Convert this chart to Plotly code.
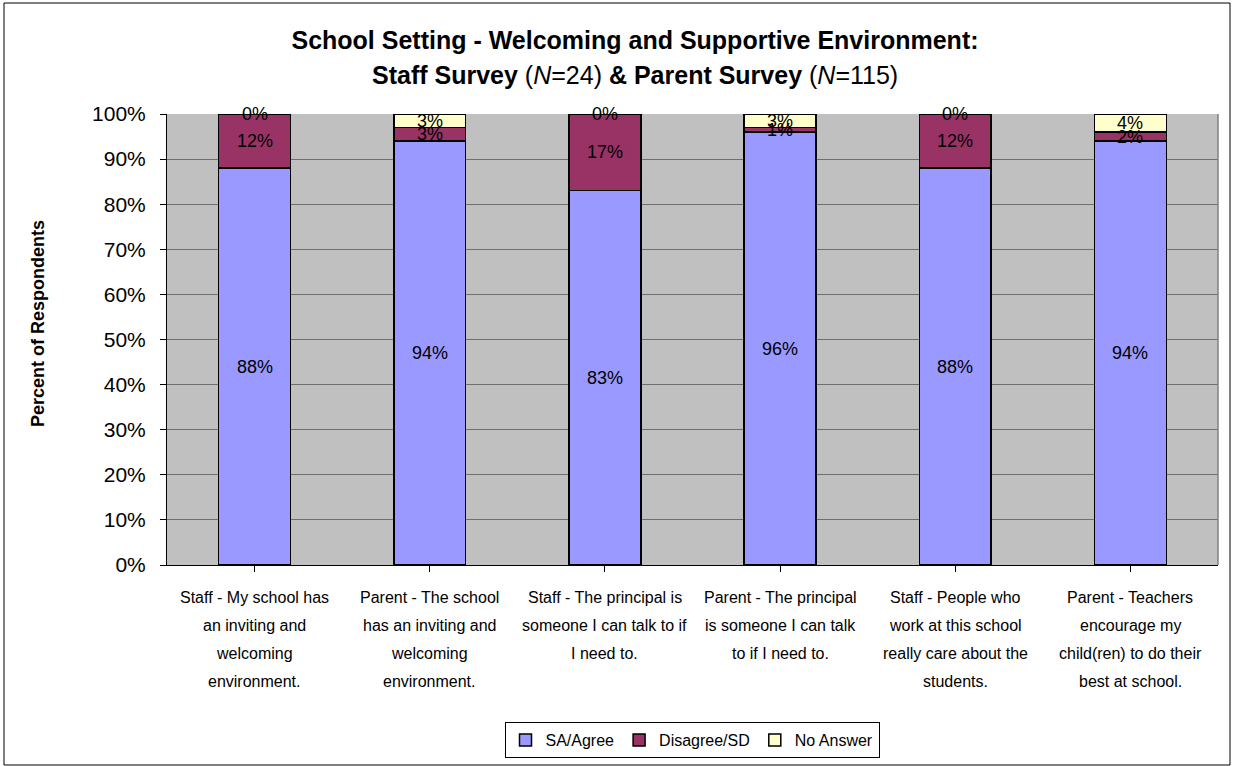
import plotly.graph_objects as go

# chart data
categories = [
    "Staff - My school has<br>an inviting and<br>welcoming<br>environment.",
    "Parent - The school<br>has an inviting and<br>welcoming<br>environment.",
    "Staff - The principal is<br>someone I can talk to if<br>I need to.",
    "Parent - The principal<br>is someone I can talk<br>to if I need to.",
    "Staff - People who<br>work at this school<br>really care about the<br>students.",
    "Parent - Teachers<br>encourage my<br>child(ren) to do their<br>best at school.",
]
sa_agree = [88, 94, 83, 96, 88, 94]
disagree = [12, 3, 17, 1, 12, 2]
no_answer = [0, 3, 0, 3, 0, 4]

series = [
    ("SA/Agree", sa_agree, "#9999FF"),
    ("Disagree/SD", disagree, "#993366"),
    ("No Answer", no_answer, "#FFFFCC"),
]

xs = list(range(len(categories)))

fig = go.Figure()
for name, vals, col in series:
    fig.add_trace(go.Bar(
        x=xs, y=vals, name=name,
        marker=dict(color=col, line=dict(color="black", width=1.5)),
        width=0.41,
    ))

# value labels centred in each segment
annotations = []
base = [0] * len(xs)
for name, vals, col in series:
    for i, v in enumerate(vals):
        annotations.append(dict(
            x=xs[i], y=base[i] + v / 2, xref="x", yref="y",
            text=f"{v}%", showarrow=False,
            font=dict(size=18, color="black"),
        ))
        base[i] += v

# category labels, one line at a time (wider line spacing than plotly default)
for i, lab in enumerate(categories):
    for j, line in enumerate(lab.split("<br>")):
        annotations.append(dict(
            x=xs[i], y=0, xref="x", yref="paper",
            yanchor="middle", yshift=-32 - 28 * j,
            text=line, showarrow=False,
            font=dict(size=16, color="black"),
        ))

# second title line and y title
annotations.append(dict(
    x=(635 - 167) / 1051, y=(565 - 75) / 451, xref="paper", yref="paper",
    xanchor="center", yanchor="middle", showarrow=False,
    text="<b>Staff Survey</b> (<i>N</i>=24) <b>&amp; Parent Survey</b> (<i>N</i>=115)",
    font=dict(size=25, color="black"),
))
annotations.append(dict(
    x=(38 - 167) / 1051, y=(565 - 324) / 451, xref="paper", yref="paper",
    xanchor="center", yanchor="middle", showarrow=False, textangle=-90,
    text="<b>Percent of Respondents</b>",
    font=dict(size=18, color="black"),
))

fig.update_layout(
    width=1233, height=766,
    margin=dict(l=167, r=15, t=114, b=201, autoexpand=False),
    paper_bgcolor="white",
    plot_bgcolor="#C0C0C0",
    barmode="stack",
    font=dict(family="Liberation Sans, Arial, sans-serif", color="black"),
    title=dict(
        text="<b>School Setting - Welcoming and Supportive Environment:</b>",
        x=635 / 1233, xanchor="center", xref="container",
        y=1 - 40 / 766, yanchor="middle", yref="container",
        font=dict(size=25, color="black"),
    ),
    xaxis=dict(
        range=[-0.5, len(xs) - 0.5],
        tickvals=xs, showticklabels=False,
        ticks="outside", tickson="boundaries", ticklen=6, tickcolor="black",
        showline=True, linecolor="black", linewidth=1,
        showgrid=False, zeroline=False,
    ),
    yaxis=dict(
        range=[0, 100], dtick=10, ticksuffix="%",
        ticks="outside", ticklen=6, tickcolor="black",
        ticklabelstandoff=10,
        tickfont=dict(size=21),
        showline=True, linecolor="black", linewidth=1,
        showgrid=True, gridcolor="#6E6E6E", gridwidth=1,
        zeroline=False,
    ),
    legend=dict(
        orientation="h", x=(692 - 167) / 1051, xanchor="center",
        y=(565 - 758) / 451, yanchor="bottom",
        bordercolor="black", borderwidth=1, bgcolor="white",
        font=dict(size=16), traceorder="normal", itemwidth=30,
    ),
    annotations=annotations,
    shapes=[
        dict(type="line", xref="paper", yref="paper", x0=1, x1=1, y0=0, y1=1,
             line=dict(color="#808080", width=1.5)),
        dict(type="rect", xref="paper", yref="paper",
             x0=(4 - 167) / 1051, x1=(1230 - 167) / 1051,
             y0=(565 - 765) / 451, y1=(565 - 3) / 451,
             line=dict(color="black", width=1)),
    ],
)

fig.write_html("out.html", config={"displayModeBar": False},
               post_script="document.body.style.margin='0px';")
